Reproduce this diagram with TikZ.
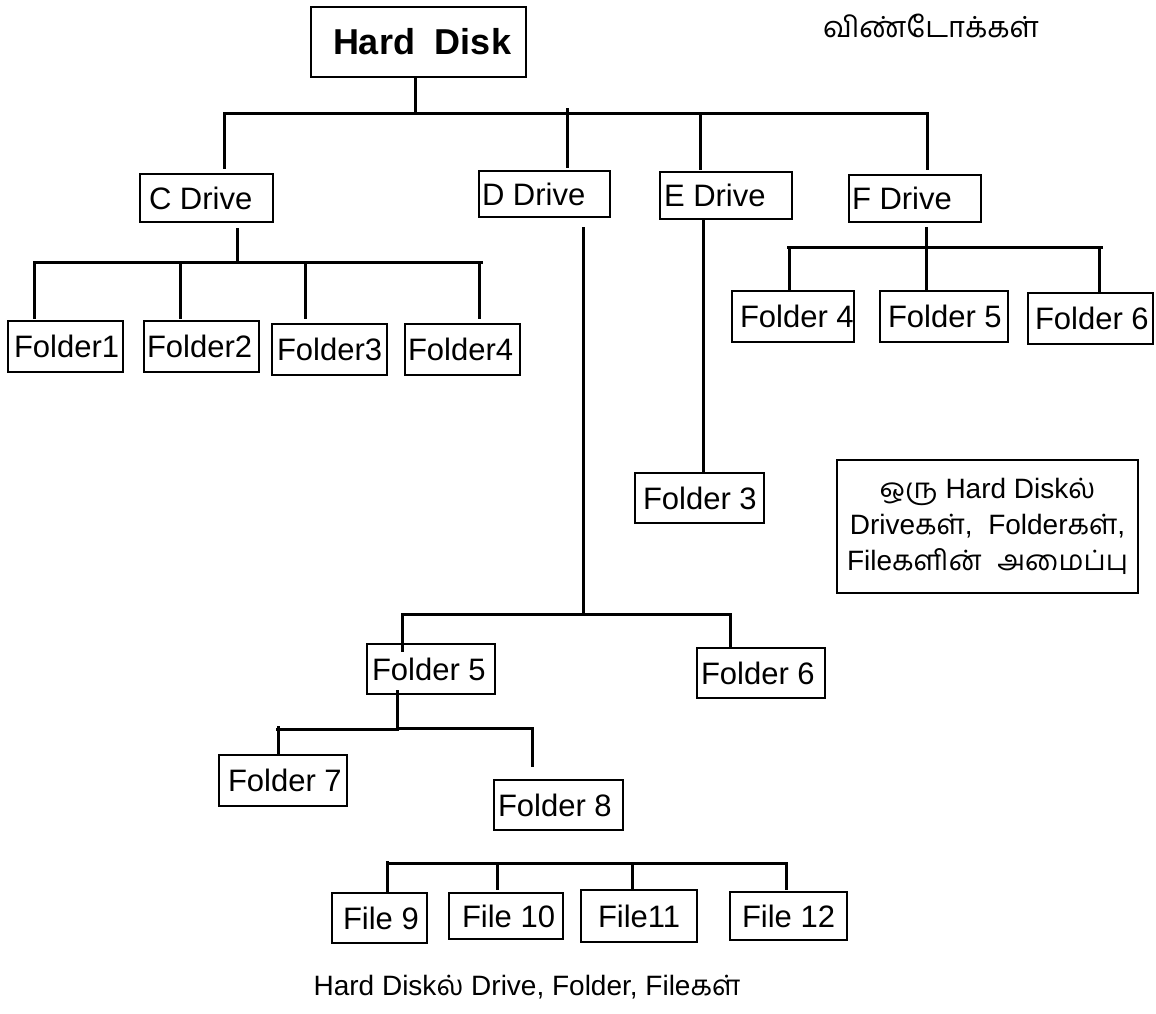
\documentclass[tikz,border=0pt]{standalone}
\usepackage{fontspec}
\setmainfont{Liberation Sans}
\newfontfamily\ta[Script=Tamil]{Hind Madurai}
\tikzset{
  box/.style={draw, line width=2.5pt, inner ysep=0pt, font=\fontsize{31}{36}\selectfont},
  conn/.style={line width=3pt, line cap=rect},
}
\newcommand\mkbox[7]{%
  \pgfmathsetmacro\bw{#4-#2}\pgfmathsetmacro\bh{#5-#3}\pgfmathsetmacro\tw{#4-#2-2*#6}%
  \pgfmathsetmacro\cx{(#2+#4)/2}\pgfmathsetmacro\cy{(#3+#5)/2}%
  \node[box, minimum width=\bw pt, minimum height=\bh pt, inner xsep=#6pt] (#1) at (\cx,\cy) {\makebox[\tw pt][l]{#7}};}
\begin{document}
\begin{tikzpicture}[x=1pt,y=-1pt]
\useasboundingbox (0,0) rectangle (1156,1013);
% boxes
\mkbox{hd}{311}{7}{526}{77}{22}{\fontsize{36}{40}\selectfont\bfseries Hard\ \ Disk}
\mkbox{cd}{140}{174}{273}{222}{9}{C Drive}
\mkbox{dd}{479}{171}{610}{217}{3}{D Drive}
\mkbox{ed}{660}{172}{792}{219}{4}{E Drive}
\mkbox{fd}{849}{175}{981}{222}{3}{F Drive}
\mkbox{c1}{8}{321}{123}{372}{6}{Folder1}
\mkbox{c2}{144}{321}{259}{372}{3}{Folder2}
\mkbox{c3}{272}{324}{387}{375}{5}{Folder3}
\mkbox{c4}{405}{324}{520}{375}{3}{Folder4}
\mkbox{f4}{732}{291}{854}{342}{8}{Folder 4}
\mkbox{f5}{880}{291}{1008}{342}{8}{Folder 5}
\mkbox{f6}{1028}{293}{1153}{344}{7}{Folder 6}
\mkbox{e3}{635}{473}{764}{523}{8}{Folder 3}
\mkbox{d5}{367}{644}{495}{694}{5}{Folder 5}
\mkbox{d6}{697}{648}{825}{698}{4}{Folder 6}
\mkbox{d7}{219}{755}{347}{806}{9}{Folder 7}
\mkbox{d8}{494}{780}{623}{830}{4}{Folder 8}
\mkbox{g9}{332}{893}{427}{943}{11}{File 9}
\mkbox{g10}{449}{893}{563}{939}{13}{File 10}
\mkbox{g11}{581}{890}{697}{942}{17}{File11}
\mkbox{g12}{730}{892}{847}{940}{12}{File 12}
% info box
\node[draw, line width=2.5pt, minimum width=301pt, minimum height=133pt, align=center,
      font=\fontsize{28}{36}\selectfont] (info) at (987.5,526.5)
  {{\ta ஒரு} Hard Disk{\ta ல்}\\ Drive{\ta கள்},\ \ Folder{\ta கள்},\\ File{\ta களின்}\ \ {\ta அமைப்பு}};
\node[font=\fontsize{29}{34}\selectfont] (tt) at (931,26) {\ta விண்டோக்கள்};
\node[font=\fontsize{28}{34}\selectfont] (cap) at (527,987) {Hard Disk{\ta ல்} Drive, Folder, File{\ta கள்}};
% root connectors
\coordinate (rb) at (415,113);
\coordinate (rbL) at (224,113);
\coordinate (rbR) at (927,113);
\draw[conn] (hd.south -| rb) -- (rb);
\draw[conn] (rbL) -- (rbR);
\draw[conn] (rbL) -- (224,167);
\draw[conn] (567,109) -- (567,166);
\draw[conn] (700,113) -- (700,168);
\draw[conn] (rbR) -- (927,168);
% C subtree
\coordinate (cb) at (237,262);
\draw[conn] (237,229) -- (cb);
\draw[conn] (34,262) -- (481,262);
\draw[conn] (34,262) -- (34,317);
\draw[conn] (180,262) -- (180,317);
\draw[conn] (305,262) -- (305,317);
\draw[conn] (479,262) -- (479,317);
% E subtree
\coordinate (ex) at (703,0);
\draw[conn] (ed.south -| ex) -- (e3.north -| ex);
% F subtree
\draw[conn] (926,228) -- (926,288);
\draw[conn] (788,247) -- (1101,247);
\draw[conn] (789,247) -- (789,288);
\draw[conn] (1099,247) -- (1099,292);
% D subtree
\coordinate (db) at (583,614);
\draw[conn] (583,228) -- (db);
\draw[conn] (402,614) -- (730,614);
\draw[conn] (402,614) -- (402,650);
\coordinate (d6x) at (730,614);
\draw[conn] (d6x) -- (d6.north -| d6x);
\draw[conn] (397,691) -- (397,729);
\draw[conn] (277,729) -- (397,729);
\coordinate (d7x) at (278,727);
\draw[conn] (d7x) -- (d7.north -| d7x);
\draw[conn] (399,728) -- (532,728);
\draw[conn] (532,728) -- (532,765);
% files
\draw[conn] (390,863) -- (786,863);
\coordinate (g9x) at (387,862);
\draw[conn] (g9x) -- (g9.north -| g9x);
\draw[conn] (497,863) -- (497,888);
\draw[conn] (632,863) -- (632,888);
\draw[conn] (786,863) -- (786,888);
\end{tikzpicture}
\end{document}
